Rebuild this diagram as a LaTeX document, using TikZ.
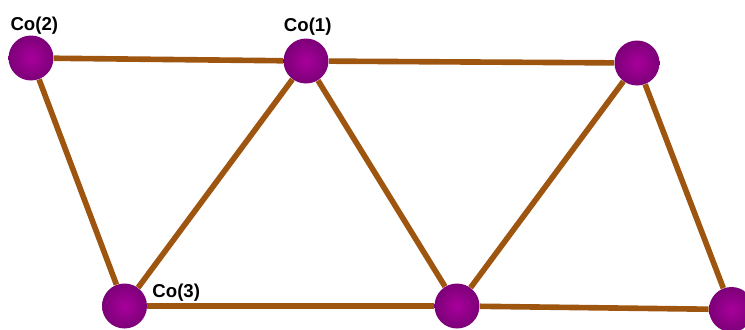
\documentclass[tikz,border=0pt]{standalone}
\usepackage{fontspec}
\setmainfont{Liberation Sans}
\usepackage{tikz}
\usetikzlibrary{positioning}
\definecolor{bondC}{RGB}{158,85,16}
\definecolor{atomIn}{RGB}{168,0,155}
\definecolor{atomOut}{RGB}{124,0,120}
\tikzset{
  atom/.style={circle, minimum size=0.9cm, inner sep=0pt, inner color=atomIn, outer color=atomOut},
  bond/.style={draw=bondC, line width=3.2pt},
  colabel/.style={font=\fontsize{10.6}{12}\selectfont\bfseries, inner sep=0pt, text=black}
}
\begin{document}
\begin{tikzpicture}[x=0.02cm, y=-0.02cm]
  \clip (0,0) rectangle (745,329);
  % upper row
  \node[atom] (A1) at (31,58) {};
  \node[atom] (A2) at (306,61) {};
  \node[atom] (A3) at (637,63) {};
  % lower row
  \node[atom] (B1) at (124.5,306) {};
  \node[atom] (B2) at (457,306) {};
  \node[atom] (B3) at (731.5,309.5) {};
  % bonds stop at the atom borders
  \foreach \a/\b in {A1/A2,A2/A3,B1/B2,B2/B3,A1/B1,A2/B1,A2/B2,A3/B2,A3/B3}{
    \draw[bond] (\a) -- (\b);
  }
  \node[colabel, above=0.4pt of A1, xshift=1.9pt] (L2) {Co(2)};
  \node[colabel, above=1.5pt of A2, xshift=1pt] (L1) {Co(1)};
  \node[colabel, right=2.7pt of B1, yshift=7.6pt] (L3) {Co(3)};
\end{tikzpicture}
\end{document}
